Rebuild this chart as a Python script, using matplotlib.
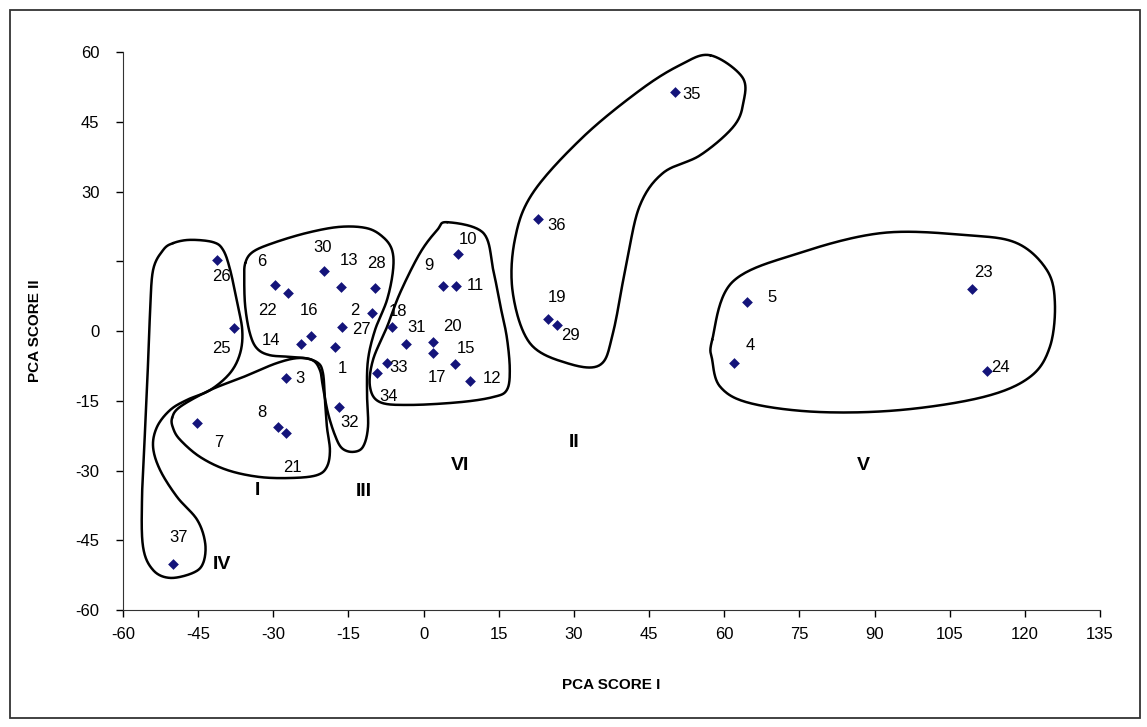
import numpy as np
import matplotlib
matplotlib.use("Agg")
import matplotlib.pyplot as plt
from matplotlib.patches import Rectangle

plt.rcParams["font.family"] = ["Liberation Sans", "DejaVu Sans"]
plt.rcParams["axes.unicode_minus"] = False

# sample scores
ids = list(range(1, 38))
score1 = [-17.7, -10.4, -27.5, 62.0, 64.6, -29.7, -45.2, -29.0, 3.9, 6.9,
          6.5, 9.3, -16.5, -24.5, 6.3, -22.4, 1.9, -6.4, 24.8, 1.9,
          -27.5, -27.1, 109.5, 112.5, -37.8, -41.2, -16.2, -9.8, 26.6, -19.8,
          -3.5, -16.8, -7.4, -9.4, 50.2, 22.8, -50.0]
score2 = [-3.4, 3.9, -10.2, -6.9, 6.2, 9.9, -19.7, -20.6, 9.7, 16.6,
          9.7, -10.8, 9.5, -2.9, -7.1, -1.1, -4.8, 0.8, 2.6, -2.3,
          -22.0, 8.1, 9.0, -8.6, 0.7, 15.3, 0.9, 9.2, 1.3, 12.8,
          -2.9, -16.3, -6.8, -9.0, 51.4, 24.1, -50.1]

# label offsets from each point, pixels (right, down)
label_off = {
    1: (7, 22), 2: (-17, -2), 3: (14, 0), 4: (16, -18), 5: (25, -5),
    6: (-13, -23), 7: (22, 20), 8: (-16, -14), 9: (-14, -20), 10: (10, -14),
    11: (19, 0), 12: (22, -3), 13: (8, -26), 14: (-30, -4), 15: (11, -16),
    16: (-2, -26), 17: (4, 24), 18: (6, -16), 19: (9, -21), 20: (19, -15),
    21: (7, 34), 22: (-20, 17), 23: (11, -17), 24: (13, -3), 25: (-13, 21),
    26: (4, 17), 27: (19, 3), 28: (2, -25), 29: (14, 11), 30: (-2, -24),
    31: (10, -17), 32: (10, 16), 33: (12, 5), 34: (12, 24), 35: (16, 3),
    36: (19, 7), 37: (5, -26),
}

# hand drawn group outlines (data units)
groups = {
    "I": [(-50.2, -18.7), (-48.6, -16.3), (-42.6, -12.7), (-36.0, -9.9), (-29.3, -6.9),
          (-24.7, -5.8), (-21.3, -6.7), (-20.1, -9.0), (-19.7, -14.8), (-19.3, -20.6),
          (-18.7, -25.6), (-19.3, -29.2), (-21.3, -31.0), (-26.1, -31.6), (-32.7, -31.4),
          (-39.2, -29.9), (-44.6, -27.1), (-48.6, -23.4), (-50.0, -20.9)],
    "II": [(57.2, 59.3), (63.6, 54.6), (63.8, 49.0), (61.8, 43.9), (55.2, 37.8),
           (47.8, 34.0), (43.2, 27.1), (40.6, 15.3), (37.8, -0.4), (35.2, -7.3),
           (28.6, -6.9), (21.2, -2.6), (17.8, 8.2), (18.2, 19.6), (21.8, 29.7),
           (31.8, 41.7), (43.2, 51.8), (51.2, 57.2)],
    "III": [(-35.6, 14.6), (-34.1, 17.0), (-30.1, 18.9), (-23.3, 21.1), (-16.7, 22.4),
            (-11.3, 22.1), (-8.1, 20.2), (-6.3, 17.4), (-6.1, 13.1), (-7.3, 6.7),
            (-9.7, 0.2), (-11.1, -6.2), (-11.3, -13.3), (-11.1, -20.6), (-12.1, -24.9),
            (-14.1, -26.0), (-16.3, -25.2), (-17.7, -22.4), (-19.1, -17.6), (-20.1, -12.0),
            (-20.7, -8.4), (-22.3, -6.2), (-26.1, -5.6), (-30.7, -5.2), (-33.3, -3.7),
            (-34.7, -0.4), (-35.6, 5.2), (-35.8, 11.0)],
    "IV": [(-50.0, 18.9), (-52.0, 17.4), (-54.0, 13.1), (-54.6, 3.9), (-55.0, -6.9),
           (-55.6, -21.3), (-56.2, -35.7), (-56.0, -46.4), (-54.0, -51.4), (-50.6, -53.1),
           (-46.0, -52.0), (-44.0, -49.9), (-43.6, -45.6), (-45.2, -40.6), (-49.2, -35.7),
           (-52.6, -29.9), (-54.0, -24.9), (-53.2, -20.6), (-50.6, -17.0), (-47.2, -14.8),
           (-42.6, -12.7), (-38.6, -9.0), (-36.6, -4.7), (-36.2, 0.2), (-37.2, 6.0),
           (-38.6, 13.1), (-40.0, 17.4), (-42.0, 19.1), (-46.6, 19.6)],
    "V": [(57.6, -1.9), (61.6, 10.5), (75.1, 16.8), (91.7, 21.1), (108.5, 20.6),
          (118.4, 18.9), (124.4, 13.1), (126.0, 6.0), (125.0, -3.4), (121.0, -9.9),
          (111.7, -14.2), (95.1, -17.0), (78.5, -17.4), (65.1, -15.5), (59.2, -12.0),
          (57.6, -6.2)],
    "VI": [(4.7, 23.4), (11.9, 21.1), (13.9, 13.1), (15.2, 6.0), (16.6, -1.3),
           (17.2, -8.4), (16.6, -12.7), (13.9, -14.2), (7.3, -15.3), (-2.7, -15.9),
           (-8.7, -15.3), (-10.7, -12.0), (-10.1, -6.2), (-7.3, 0.9), (-4.7, 8.2),
           (-0.7, 16.8), (2.7, 21.7)],
}
group_names = ["I", "II", "III", "IV", "V", "VI"]
group_label_x = [-33.1, 30.0, -11.9, -40.2, 87.7, 7.3]
group_label_y = [-34.2, -24.0, -34.6, -50.3, -29.0, -29.0]

xticks = list(range(-60, 136, 15))
yticks = list(range(-60, 61, 15))
ytick_labels = ["" if v == 15 else str(v) for v in yticks]


def smooth_closed(pts, n=24):
    """periodic Catmull-Rom through the outline points"""
    p = np.asarray(pts, dtype=float)
    k = len(p)
    t = np.linspace(0, 1, n, endpoint=False)[:, None]
    segs = []
    for i in range(k):
        p0, p1, p2, p3 = p[i - 1], p[i], p[(i + 1) % k], p[(i + 2) % k]
        segs.append(0.5 * (2 * p1 + (-p0 + p2) * t
                           + (2 * p0 - 5 * p1 + 4 * p2 - p3) * t ** 2
                           + (-p0 + 3 * p1 - 3 * p2 + p3) * t ** 3))
    segs.append(segs[0][:1])
    return np.vstack(segs)


fig = plt.figure(figsize=(11.47, 7.27), dpi=100)
ax = fig.add_axes([123 / 1147, 1 - 610 / 727, (1100 - 123) / 1147, (610 - 52) / 727])

for name in group_names:
    c = smooth_closed(groups[name])
    ax.plot(c[:, 0], c[:, 1], color="black", lw=1.8, zorder=2, solid_capstyle="round")

ax.scatter(score1, score2, marker="D", s=30, color="#14147a", zorder=3, linewidths=0)

for i, x, y in zip(ids, score1, score2):
    dx, dy = label_off[i]
    ax.annotate(str(i), (x, y), xytext=(dx, -dy), textcoords="offset pixels",
                ha="center", va="center", fontsize=12, color="black", zorder=4)

for name, x, y in zip(group_names, group_label_x, group_label_y):
    ax.text(x, y, name, ha="center", va="center", fontsize=14, fontweight="bold",
            color="black", zorder=4)

ax.set_xlim(-60, 135)
ax.set_ylim(-60, 60)
ax.set_xticks(xticks)
ax.set_yticks(yticks)
ax.set_yticklabels(ytick_labels)
ax.tick_params(labelsize=12, direction="out", length=5, width=1, colors="black")
ax.tick_params(axis="y", pad=12)
ax.tick_params(axis="x", pad=7)
for s in ["top", "right"]:
    ax.spines[s].set_visible(False)
for s in ["left", "bottom"]:
    ax.spines[s].set_color("#333333")
ax.set_xlabel("PCA SCORE I", fontsize=11, fontweight="bold", labelpad=26)
ax.set_ylabel("PCA SCORE II", fontsize=11, fontweight="bold", labelpad=24)

# chart area border
fig.patches.append(Rectangle((10 / 1147, 1 - 718 / 727), 1130 / 1147, 708 / 727,
                             transform=fig.transFigure, fill=False,
                             edgecolor="#333333", lw=1.3))

fig.savefig("out.png", dpi=100)
